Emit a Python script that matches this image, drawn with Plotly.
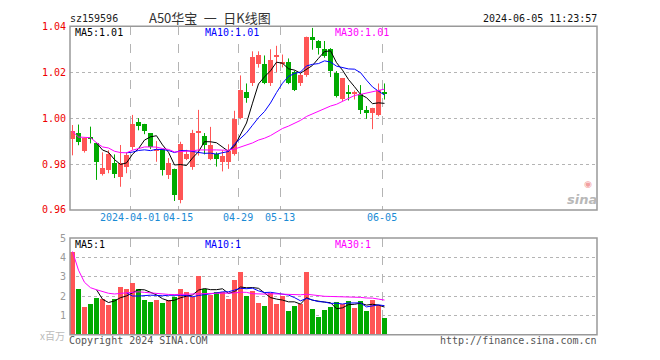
import plotly.graph_objects as go
import pandas as pd

# ---------------- data ----------------
dates = ["2024-03-18", "2024-03-19", "2024-03-20", "2024-03-21", "2024-03-22",
         "2024-03-25", "2024-03-26", "2024-03-27", "2024-03-28", "2024-03-29",
         "2024-04-01", "2024-04-02", "2024-04-03", "2024-04-08", "2024-04-09",
         "2024-04-10", "2024-04-11", "2024-04-12", "2024-04-15", "2024-04-16",
         "2024-04-17", "2024-04-18", "2024-04-19", "2024-04-22", "2024-04-23",
         "2024-04-24", "2024-04-25", "2024-04-26", "2024-04-29", "2024-04-30",
         "2024-05-06", "2024-05-07", "2024-05-08", "2024-05-09", "2024-05-10",
         "2024-05-13", "2024-05-14", "2024-05-15", "2024-05-16", "2024-05-17",
         "2024-05-20", "2024-05-21", "2024-05-22", "2024-05-23", "2024-05-24",
         "2024-05-27", "2024-05-28", "2024-05-29", "2024-05-30", "2024-05-31",
         "2024-06-03", "2024-06-04", "2024-06-05"]

open_ = [0.9906, 0.9933, 0.9854, 0.9914, 0.9890, 0.9756, 0.9771, 0.9804, 0.9743, 0.9785,
         0.9872, 0.9983, 0.9972, 0.9933, 0.9854, 0.9864, 0.9752, 0.9775, 0.9643, 0.9821,
         0.9785, 0.9935, 0.9921, 0.9821, 0.9842, 0.9807, 0.9807, 0.9844, 1.0000, 1.0112,
         1.0151, 1.0235, 1.0235, 1.0151, 1.0266, 1.0235, 1.0245, 1.0200, 1.0151, 1.0186,
         1.0351, 1.0333, 1.0302, 1.0301, 1.0197, 1.0081, 1.0113, 1.0102, 1.0102, 1.0035,
         1.0022, 1.0011, 1.0113]
high = [0.9970, 0.9972, 0.9916, 0.9963, 0.9892, 0.9851, 0.9860, 0.9842, 0.9883, 0.9850,
        1.0014, 1.0000, 0.9975, 0.9935, 0.9900, 0.9866, 0.9826, 0.9780, 0.9897, 0.9862,
        0.9949, 1.0036, 0.9935, 0.9962, 0.9851, 0.9860, 0.9886, 1.0032, 1.0186, 1.0151,
        1.0291, 1.0291, 1.0273, 1.0300, 1.0315, 1.0277, 1.0260, 1.0207, 1.0195, 1.0355,
        1.0393, 1.0340, 1.0336, 1.0305, 1.0205, 1.0175, 1.0144, 1.0120, 1.0144, 1.0053,
        1.0045, 1.0151, 1.0151]
low = [0.9838, 0.9882, 0.9850, 0.9890, 0.9731, 0.9750, 0.9760, 0.9739, 0.9701, 0.9760,
       0.9862, 0.9947, 0.9930, 0.9865, 0.9810, 0.9750, 0.9735, 0.9639, 0.9629, 0.9817,
       0.9775, 0.9837, 0.9842, 0.9817, 0.9789, 0.9768, 0.9779, 0.9837, 0.9995, 1.0067,
       1.0140, 1.0220, 1.0148, 1.0140, 1.0200, 1.0221, 1.0148, 1.0118, 1.0140, 1.0180,
       1.0298, 1.0277, 1.0263, 1.0179, 1.0090, 1.0075, 1.0077, 1.0081, 1.0018, 0.9997,
       0.9952, 1.0008, 1.0081]
close = [0.9942, 0.9893, 0.9914, 0.9910, 0.9806, 0.9783, 0.9842, 0.9756, 0.9804, 0.9840,
         0.9972, 0.9964, 0.9942, 0.9875, 0.9864, 0.9772, 0.9804, 0.9664, 0.9886, 0.9842,
         0.9935, 0.9942, 0.9883, 0.9883, 0.9821, 0.9835, 0.9854, 0.9997, 1.0123, 1.0085,
         1.0267, 1.0273, 1.0151, 1.0254, 1.0273, 1.0245, 1.0151, 1.0123, 1.0186, 1.0351,
         1.0337, 1.0305, 1.0270, 1.0203, 1.0094, 1.0172, 1.0102, 1.0113, 1.0036, 1.0022,
         1.0042, 1.0120, 1.0102]
# volume in millions (x百万)
volume = [4.30, 2.37, 1.45, 1.60, 1.90, 1.85, 1.52, 1.85, 2.45, 2.35,
          2.65, 2.35, 1.80, 1.70, 1.80, 1.65, 1.80, 1.95, 2.35, 2.20,
          1.97, 3.05, 2.37, 2.05, 2.20, 2.20, 1.85, 2.82, 3.26, 2.00,
          2.25, 1.66, 1.50, 2.18, 1.61, 2.00, 1.20, 1.50, 1.60, 3.26,
          1.35, 0.91, 1.30, 1.45, 1.70, 1.58, 1.75, 1.37, 1.75, 1.20,
          1.80, 1.52, 0.87]

tick_dates = ["2024-04-01", "2024-04-15", "2024-04-29", "2024-05-13", "2024-06-05"]
tick_labels = ["2024-04-01", "04-15", "04-29", "05-13", "06-05"]
price_ticks = [0.96, 0.98, 1.00, 1.02, 1.04]
vol_ticks = [1, 2, 3, 4, 5]

# ---------------- derived ----------------
df = pd.DataFrame({"date": dates, "open": open_, "high": high, "low": low,
                   "close": close, "vol": volume})
df["i"] = range(len(df))
df["ma5"] = df["close"].rolling(5).mean()
df["ma10"] = df["close"].rolling(10).mean()
df["ma30"] = df["close"].rolling(30, min_periods=1).mean()
df["vma5"] = df["vol"].rolling(5).mean()
df["vma10"] = df["vol"].rolling(10).mean()
df["vma30"] = df["vol"].rolling(30, min_periods=1).mean()

RED = "#ff5555"
GREEN = "#00aa00"
up = df["close"] >= df["open"]
colors = [RED if u else GREEN for u in up]
body_base = [min(o, c) for o, c in zip(df["open"], df["close"])]
body_h = [max(abs(c - o), 0.00045) for o, c in zip(df["open"], df["close"])]

fig = go.Figure()

# wicks
for flag, col in ((True, RED), (False, GREEN)):
    xs, ys = [], []
    for r, u in zip(df.itertuples(), up):
        if u == flag:
            xs += [r.i, r.i, None]
            ys += [r.low, r.high, None]
    fig.add_trace(go.Scatter(x=xs, y=ys, mode="lines", line=dict(color=col, width=1),
                             hoverinfo="skip", xaxis="x", yaxis="y"))

# bodies
fig.add_trace(go.Bar(x=df["i"], y=body_h, base=body_base, width=0.84,
                     marker=dict(color=colors, line=dict(width=0)),
                     xaxis="x", yaxis="y"))

# price MAs
for col_name, c in (("ma5", "#000000"), ("ma10", "#0000ff"), ("ma30", "#ff00ff")):
    fig.add_trace(go.Scatter(x=df["i"], y=df[col_name], mode="lines",
                             line=dict(color=c, width=1), xaxis="x", yaxis="y"))

# volume bars
fig.add_trace(go.Bar(x=df["i"], y=df["vol"], width=0.84,
                     marker=dict(color=colors, line=dict(width=0)),
                     xaxis="x2", yaxis="y2"))
for col_name, c in (("vma5", "#000000"), ("vma10", "#0000ff"), ("vma30", "#ff00ff")):
    fig.add_trace(go.Scatter(x=df["i"], y=df[col_name], mode="lines",
                             line=dict(color=c, width=1), xaxis="x2", yaxis="y2"))

W, H = 660, 360
L, R = 70, 597
PT, PB = 21, 211
VT, VB = 240, 340
xr = [-(72.5 - L) / 6, (R - 72.5) / 6]
date_idx = {d: k for k, d in enumerate(dates)}
tickvals = [date_idx[d] - 0.4 for d in tick_dates]

MONO = "DejaVu Sans Mono"
GRID = "#b4b4b4"

fig.update_layout(
    width=W, height=H, margin=dict(l=0, r=0, t=0, b=0),
    paper_bgcolor="white", plot_bgcolor="white", showlegend=False,
    barmode="overlay", bargap=0,
    xaxis=dict(domain=[L / W, R / W], range=xr, anchor="y",
               tickvals=tickvals, ticktext=tick_labels, ticks="",
               showgrid=True, gridcolor=GRID, griddash="dash", gridwidth=1,
               zeroline=False, showline=False,
               tickfont=dict(family=MONO, size=10, color="#1a8ad4")),
    yaxis=dict(domain=[1 - PB / H, 1 - PT / H], range=[0.96, 1.04], anchor="x",
               tickvals=price_ticks, ticktext=[f"{v:.2f}" for v in price_ticks],
               ticks="", showgrid=True, gridcolor=GRID, griddash="dot", gridwidth=1,
               zeroline=False, showline=False, ticklabelstandoff=3,
               tickfont=dict(family=MONO, size=10, color="#ee0000")),
    xaxis2=dict(domain=[L / W, R / W], range=xr, anchor="y2", matches="x",
                tickvals=tickvals, showticklabels=False, ticks="",
                showgrid=True, gridcolor=GRID, griddash="dash", gridwidth=1,
                zeroline=False, showline=False),
    yaxis2=dict(domain=[1 - VB / H, 1 - VT / H], range=[0, 5], anchor="x2",
                tickvals=vol_ticks, ticks="", showgrid=True, gridcolor=GRID,
                griddash="dot", gridwidth=1, zeroline=False, showline=False,
                ticklabelstandoff=3,
                tickfont=dict(family=MONO, size=10, color="#999999")),
)

# frames
for xa, ya in (("x", "y"), ("x2", "y2")):
    fig.add_shape(type="rect", xref=f"{xa} domain", yref=f"{ya} domain",
                  x0=0, x1=1, y0=0, y1=1, line=dict(color="#999999", width=1.5),
                  layer="above")


def ann(text, x, y, color="#000000", size=10, family=MONO, xanchor="left", **kw):
    fig.add_annotation(text=text, x=x / W, y=1 - y / H, xref="paper", yref="paper",
                       showarrow=False, xanchor=xanchor, yanchor="middle",
                       borderpad=0,
                       font=dict(family=family, size=size, color=color, **kw))


ann("sz159596", 69, 12.5, color="#222222")
ann("A50华宝\u2002一\u2002日K线图", 210, 11.5, color="#333333", size=13,
    family="Noto Sans CJK SC", xanchor="center")
ann("2024-06-05 11:23:57", 598, 12.5, color="#111111", xanchor="right")

ann("MA5:1.01", 74, 27, color="#000000")
ann("MA10:1.01", 204, 27, color="#0000ff")
ann("MA30:1.01", 334, 27, color="#ff00ff")
ann("MA5:1", 74, 246.5, color="#000000")
ann("MA10:1", 204, 246.5, color="#0000ff")
ann("MA30:1", 334, 246.5, color="#ff00ff")

ann("x百万", 66, 341, color="#bbbbbb", size=10, family="Noto Sans CJK SC",
    xanchor="right")
ann("Copyright 2024 SINA.COM", 68, 346.5, color="#555555")
ann("http://finance.sina.com.cn", 598, 346.5, color="#555555", xanchor="right")

# sina watermark
ann("◉", 588, 184, color="#f2a0a0", size=9, family="DejaVu Sans", xanchor="center")
ann("sina", 582, 200, color="#b8b8b8", size=13, family="DejaVu Sans",
    xanchor="center", style="italic", weight="bold")

fig.write_html("out.html", config={"displayModeBar": False},
               post_script="document.body.style.margin='0';"
                           "document.body.style.overflow='hidden';")
